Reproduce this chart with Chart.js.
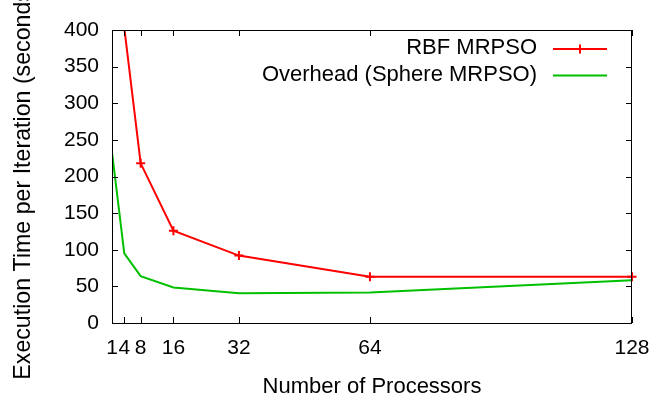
<!DOCTYPE html>
<html>
<head>
<meta charset="utf-8">
<script src="https://cdn.jsdelivr.net/npm/chart.js@4"></script>
<style>
  html, body { margin: 0; padding: 0; background: #fff; }
  #wrap { width: 668px; height: 403px; }
</style>
</head>
<body>
<div id="wrap"><canvas id="grafico"></canvas></div>
<script>
// valores
const processadores = [1, 4, 8, 16, 32, 64, 128];
const rbfX = [4, 8, 16, 32, 64, 128];
const rbfTempo = [403, 218, 126, 92, 63, 63];
const overheadX = [1, 4, 8, 16, 32, 64, 128];
const overheadTempo = [233, 95, 64, 48.5, 40.5, 41.5, 58.5];
const yTicks = [0, 50, 100, 150, 200, 250, 300, 350, 400];

const fonte = 'Liberation Sans, Arial, sans-serif';

function pontos(xs, ys) {
    return xs.map((x, i) => ({ x: x, y: ys[i] }));
}

// borda, ticks para dentro, legenda e título do eixo y (estilo gnuplot)
const estiloGnuplot = {
    id: 'estiloGnuplot',
    afterDraw(chart) {
        const ctx = chart.ctx;
        const a = chart.chartArea;
        const sx = chart.scales.x, sy = chart.scales.y;
        ctx.save();
        ctx.strokeStyle = '#000';
        ctx.lineWidth = 1;
        ctx.strokeRect(a.left + 0.5, a.top + 0.5, a.right - a.left - 1, a.bottom - a.top);

        ctx.beginPath();
        processadores.forEach(v => {
            const px = Math.round(sx.getPixelForValue(v)) + 0.5;
            ctx.moveTo(px, a.bottom); ctx.lineTo(px, a.bottom - 6);
            ctx.moveTo(px, a.top); ctx.lineTo(px, a.top + 6);
        });
        yTicks.forEach(v => {
            const py = Math.round(sy.getPixelForValue(v)) + 0.5;
            ctx.moveTo(a.left, py); ctx.lineTo(a.left + 6, py);
            ctx.moveTo(a.right, py); ctx.lineTo(a.right - 6, py);
        });
        ctx.stroke();

        // legenda
        ctx.font = '22px ' + fonte;
        ctx.fillStyle = '#000';
        ctx.textAlign = 'right';
        ctx.textBaseline = 'middle';
        const linhas = [48, 74.5];
        chart.data.datasets.forEach((ds, i) => {
            const y = linhas[i];
            ctx.fillText(ds.label, 537, y);
            ctx.strokeStyle = ds.borderColor;
            ctx.lineWidth = 2;
            ctx.beginPath();
            ctx.moveTo(553, y + 1); ctx.lineTo(607, y + 1);
            ctx.stroke();
            if (ds.pointStyle === 'cross') {
                ctx.beginPath();
                ctx.moveTo(575.5, y + 1); ctx.lineTo(584.5, y + 1);
                ctx.moveTo(580, y - 3.5); ctx.lineTo(580, y + 5.5);
                ctx.stroke();
            }
        });

        // título do eixo y (cortado no topo, como no original)
        ctx.font = '23.2px ' + fonte;
        ctx.translate(24, 181);
        ctx.rotate(-Math.PI / 2);
        ctx.textAlign = 'center';
        ctx.fillText('Execution Time per Iteration (seconds)', 0, 0);
        ctx.restore();
    }
};

new Chart(document.getElementById('grafico'), {
    type: 'line',
    data: {
        datasets: [{
            label: 'RBF MRPSO',
            data: pontos(rbfX, rbfTempo),
            borderColor: '#ff0000',
            backgroundColor: '#ff0000',
            borderWidth: 2,
            pointStyle: 'cross',
            pointRadius: c => (c.raw && c.raw.y > 400 ? 0 : 4.5),
            pointBorderWidth: 2,
            tension: 0,
            clip: { left: 0, top: 0, right: 10, bottom: 10 }
        }, {
            label: 'Overhead (Sphere MRPSO)',
            data: pontos(overheadX, overheadTempo),
            borderColor: '#00c000',
            backgroundColor: '#00c000',
            borderWidth: 2,
            pointRadius: 0,
            tension: 0,
            clip: { left: 0, top: 0, right: 10, bottom: 10 }
        }]
    },
    options: {
        responsive: true,
        maintainAspectRatio: false,
        animation: false,
        layout: { padding: { left: 0, top: 30, right: 36, bottom: 0 } },
        plugins: {
            legend: { display: false },
            tooltip: { enabled: false }
        },
        scales: {
            x: {
                type: 'linear',
                min: 1,
                max: 128,
                afterBuildTicks: s => { s.ticks = processadores.map(v => ({ value: v })); },
                afterFit: s => { s.height = 80; },
                grid: { display: false, drawTicks: false },
                border: { display: false },
                ticks: {
                    padding: 13,
                    color: '#000',
                    font: { family: fonte, size: 21 },
                    maxRotation: 0,
                    autoSkip: false
                },
                title: {
                    display: true,
                    text: 'Number of Processors',
                    color: '#000',
                    font: { family: fonte, size: 22 },
                    padding: { top: 0, bottom: 2.6 }
                }
            },
            y: {
                min: 0,
                max: 400,
                afterBuildTicks: s => { s.ticks = yTicks.map(v => ({ value: v })); },
                afterFit: s => { s.width = 112; },
                grid: { display: false, drawTicks: false },
                border: { display: false },
                ticks: {
                    padding: 13,
                    color: '#000',
                    font: { family: fonte, size: 21 }
                }
            }
        }
    },
    plugins: [estiloGnuplot]
});
</script>
</body>
</html>
